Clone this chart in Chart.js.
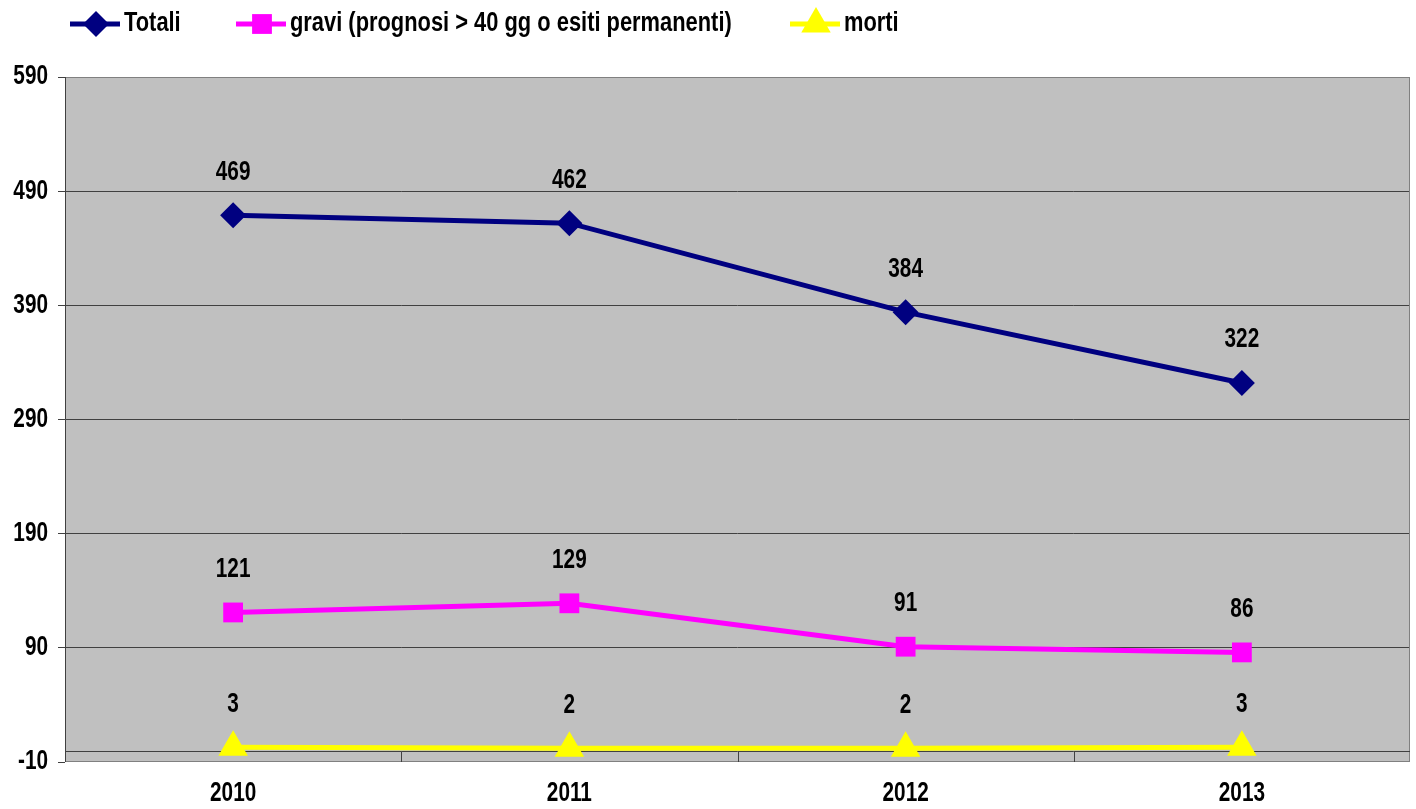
<!DOCTYPE html>
<html>
<head>
<meta charset="utf-8">
<script src="https://cdn.jsdelivr.net/npm/chart.js@4.4.1/dist/chart.umd.min.js"></script>
<style>
  html, body { margin: 0; padding: 0; background: #fff; overflow: hidden; }
</style>
</head>
<body>
<canvas id="chart" width="1416" height="809"></canvas>
<script>
// data
const years = ['2010', '2011', '2012', '2013'];
const totali = [469, 462, 384, 322];
const gravi = [121, 129, 91, 86];
const morti = [3, 2, 2, 3];
const yTicks = [-10, 90, 190, 290, 390, 490, 590];

const FONT = 'bold 27px "Liberation Sans", Arial, sans-serif';

// Arial Narrow look: squeeze Liberation Sans horizontally
function narrowText(ctx, text, x, y, align, squeeze) {
    ctx.save();
    ctx.font = FONT;
    ctx.fillStyle = '#000';
    ctx.textBaseline = 'middle';
    ctx.textAlign = align;
    ctx.translate(x, y);
    ctx.scale(squeeze || 0.77, 1);
    ctx.fillText(text, 0, 0);
    ctx.restore();
}

// grey plot background + frame + zero line with category ticks
const frame = {
    id: 'frame',
    beforeDraw(chart) {
        const ctx = chart.ctx;
        const a = chart.chartArea;
        ctx.save();
        ctx.fillStyle = '#C0C0C0';
        ctx.fillRect(a.left, a.top, a.right - a.left, a.bottom - a.top);
        ctx.restore();
    },
    beforeDatasetsDraw(chart) {
        const ctx = chart.ctx;
        const a = chart.chartArea;
        const y0 = Math.round(chart.scales.y.getPixelForValue(0)) + 0.5;
        ctx.save();
        ctx.lineWidth = 1;
        ctx.strokeStyle = '#808080';
        ctx.strokeRect(a.left + 0.5, a.top + 0.5, a.right - a.left - 1, a.bottom - a.top - 1);
        ctx.strokeStyle = '#404040';
        ctx.beginPath();
        ctx.moveTo(a.left, y0);
        ctx.lineTo(a.right, y0);
        const w = (a.right - a.left) / years.length;
        for (let i = 1; i < years.length; i++) {
            const px = Math.round(a.left + i * w) + 0.5;
            ctx.moveTo(px, y0);
            ctx.lineTo(px, a.bottom);
        }
        ctx.moveTo(a.left + 0.5, a.top);
        ctx.lineTo(a.left + 0.5, a.bottom);
        ctx.stroke();
        ctx.restore();
    }
};

// axis labels and value labels
const texts = {
    id: 'texts',
    afterDraw(chart) {
        const ctx = chart.ctx;
        const xs = chart.scales.x, ys = chart.scales.y;
        yTicks.forEach(v => narrowText(ctx, String(v), 48, ys.getPixelForValue(v), 'right'));
        years.forEach((lab, i) => narrowText(ctx, lab, xs.getPixelForValue(i), 794, 'center'));
        chart.data.datasets.forEach((ds, i) => {
            chart.getDatasetMeta(i).data.forEach((pt, j) => {
                narrowText(ctx, String(ds.data[j]), pt.x, pt.y - 43, 'center');
            });
        });
    }
};

// legend with line + marker swatches
const lineLegend = {
    id: 'lineLegend',
    afterDraw(chart) {
        const ctx = chart.ctx;
        const starts = [70, 236, 790];
        chart.data.datasets.forEach((ds, i) => {
            const x0 = starts[i], y = 24;
            ctx.save();
            ctx.strokeStyle = ds.borderColor;
            ctx.lineWidth = 5;
            ctx.beginPath();
            ctx.moveTo(x0, y);
            ctx.lineTo(x0 + 50, y);
            ctx.stroke();
            ctx.fillStyle = ds.borderColor;
            Chart.helpers.drawPoint(ctx, {
                pointStyle: ds.pointStyle, radius: ds.pointRadius,
                borderWidth: 0, rotation: 0
            }, x0 + 26, y);
            ctx.restore();
            narrowText(ctx, ds.label, x0 + 54, y, 'left', 0.81);
        });
    }
};

new Chart(document.getElementById('chart'), {
    type: 'line',
    data: {
        labels: years,
        datasets: [
            {
                label: 'Totali',
                data: totali,
                borderColor: '#000080',
                backgroundColor: '#000080',
                borderWidth: 5,
                pointStyle: 'rectRot',
                pointRadius: 13,
                pointBorderWidth: 0
            },
            {
                label: 'gravi (prognosi > 40 gg o esiti permanenti)',
                data: gravi,
                borderColor: '#FF00FF',
                backgroundColor: '#FF00FF',
                borderWidth: 5,
                pointStyle: 'rect',
                pointRadius: 14,
                pointBorderWidth: 0
            },
            {
                label: 'morti',
                data: morti,
                borderColor: '#FFFF00',
                backgroundColor: '#FFFF00',
                borderWidth: 5,
                pointStyle: 'triangle',
                pointRadius: 17,
                pointBorderWidth: 0
            }
        ]
    },
    options: {
        responsive: false,
        animation: false,
        layout: { autoPadding: false, padding: { top: 77, right: 6, left: 0, bottom: 0 } },
        plugins: {
            legend: { display: false },
            tooltip: { enabled: false }
        },
        scales: {
            x: {
                offset: true,
                grid: { display: false, drawTicks: false },
                border: { display: false },
                ticks: { color: 'rgba(0,0,0,0)', font: { size: 12 } },
                afterFit(scale) {
                    scale.height = 47;
                    scale.paddingLeft = 0;
                    scale.paddingRight = 0;
                }
            },
            y: {
                min: -10,
                max: 590,
                afterBuildTicks(scale) {
                    scale.ticks = yTicks.map(v => ({ value: v }));
                },
                grid: {
                    color: ctx => (ctx.tick && (ctx.tick.value === -10 || ctx.tick.value === 590)) ? 'rgba(0,0,0,0)' : '#404040',
                    lineWidth: 1,
                    tickLength: 7,
                    tickColor: '#404040'
                },
                border: { display: false },
                ticks: { color: 'rgba(0,0,0,0)', font: { size: 12 } },
                afterFit(scale) { scale.width = 65; }
            }
        }
    },
    plugins: [frame, texts, lineLegend]
});
</script>
</body>
</html>
